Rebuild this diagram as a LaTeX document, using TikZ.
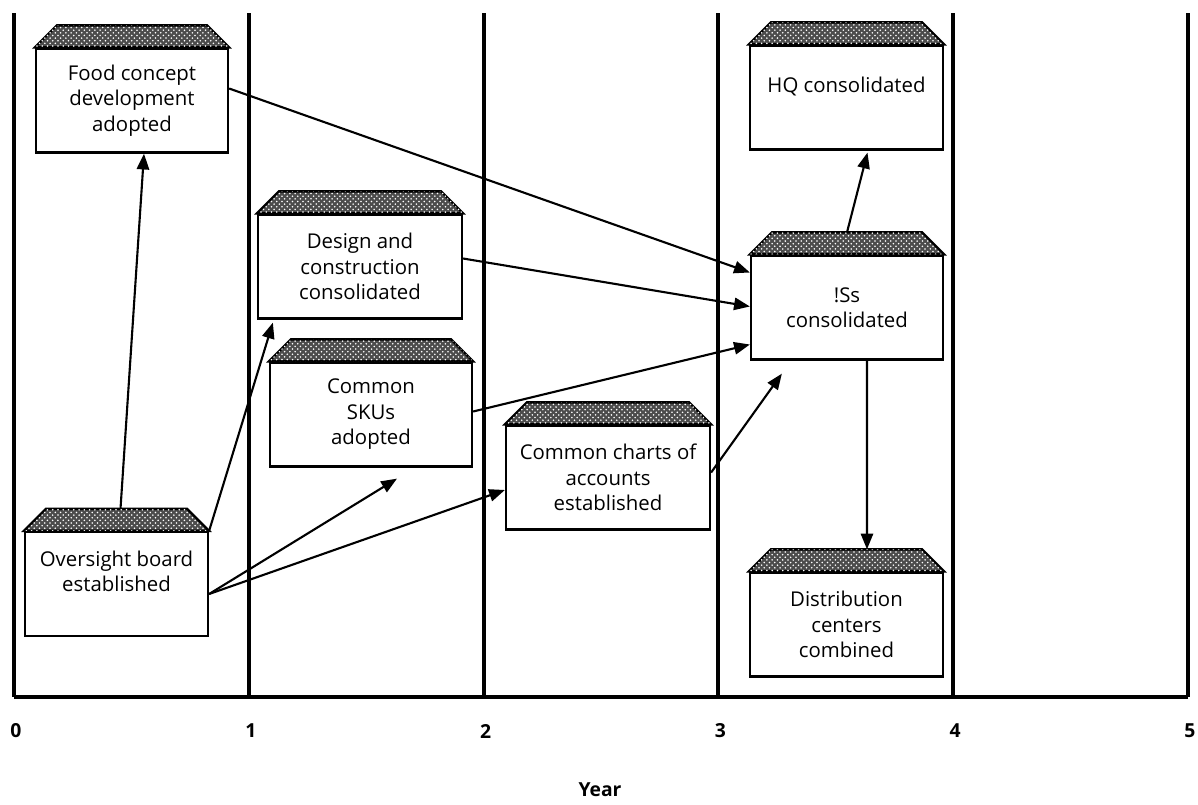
\documentclass[tikz,border=0pt]{standalone}
\usepackage{fontspec}
\setmainfont{Open Sans}
\usetikzlibrary{arrows.meta,patterns}

\tikzset{
  folder/.style={draw, line width=1.3pt, fill=white, minimum width=#1,
    minimum height=2.08cm, inner sep=0pt, align=center,
    font=\fontsize{11.6}{14.5}\selectfont},
  tab/.style={draw, line width=1.3pt, fill=black!70,
    postaction={pattern=crosshatch dots, pattern color=white}},
  flow/.style={line width=1.2pt, -{Triangle[length=9pt,width=7pt]}},
  yearline/.style={line width=2.3pt},
}

\begin{document}
\begin{tikzpicture}[x=0.02cm, y=-0.02cm]
  \useasboundingbox (0,0) rectangle (1198,805);

  % year grid
  \foreach \i in {0,...,5} {
    \draw[yearline] (14+234.8*\i,13) -- (14+234.8*\i,697);
    \node[font=\bfseries\fontsize{11}{13}\selectfont] (yr\i) at (16+234.8*\i,731) {\i};
  }
  \draw[line width=2.8pt] (14,697) -- (1188,697);
  \node[font=\bfseries\fontsize{11}{13}\selectfont] (year) at (600,790) {Year};

  % milestones
  \node[folder=3.84cm] (food) at (132,100.5) {Food concept\\development\\adopted};
  \node[folder=3.66cm] (board) at (116.5,584) {Oversight board\\established\\~};
  \node[folder=4.08cm] (design) at (360,266.5) {Design and\\construction\\consolidated};
  \node[folder=4.04cm] (skus) at (371,414.5) {Common\\SKUs\\adopted};
  \node[folder=4.08cm] (charts) at (608,477.5) {Common charts of\\accounts\\established};
  \node[folder=3.84cm] (iss) at (847,307.5) {!Ss\\consolidated};
  \node[folder=3.86cm] (hq) at (846.5,97.5) {HQ consolidated\\~};
  \node[folder=3.86cm] (dist) at (846.5,624.5) {Distribution\\centers\\combined};

  % shaded tabs on top of each box
  \foreach \b in {food,board,design,skus,charts,iss,hq,dist}
    \draw[tab] (\b.north west) -- ([shift={(22,-22)}]\b.north west)
      -- ([shift={(-22,-22)}]\b.north east) -- (\b.north east) -- cycle;

  % links
  \draw[flow] ([shift={(4,-22)}]board.north) -- ([shift={(12,0)}]food.south);
  \draw[flow] (board.north east) -- ([shift={(16,3)}]design.south west);
  \draw[flow] ([shift={(0,10)}]board.east) -- ([shift={(26,11)}]skus.south);
  \draw[flow] ([shift={(0,10)}]board.east) -- ([shift={(0,12.5)}]charts.west);
  \draw[flow] ([shift={(0,-12)}]food.east) -- ([shift={(0,-35)}]iss.west);
  \draw[flow] ([shift={(0,-8)}]design.east) -- ([shift={(0,-1)}]iss.west);
  \draw[flow] ([shift={(0,-3)}]skus.east) -- ([shift={(0,37)}]iss.west);
  \draw[flow] ([shift={(0,-5)}]charts.east) -- ([shift={(32,13)}]iss.south west);
  \draw[flow] ([shift={(20,0)}]iss.south) -- ([shift={(20.5,-22)}]dist.north);
  \draw[flow] ([shift={(0,-22)}]iss.north) -- ([shift={(21,2)}]hq.south);
\end{tikzpicture}
\end{document}
